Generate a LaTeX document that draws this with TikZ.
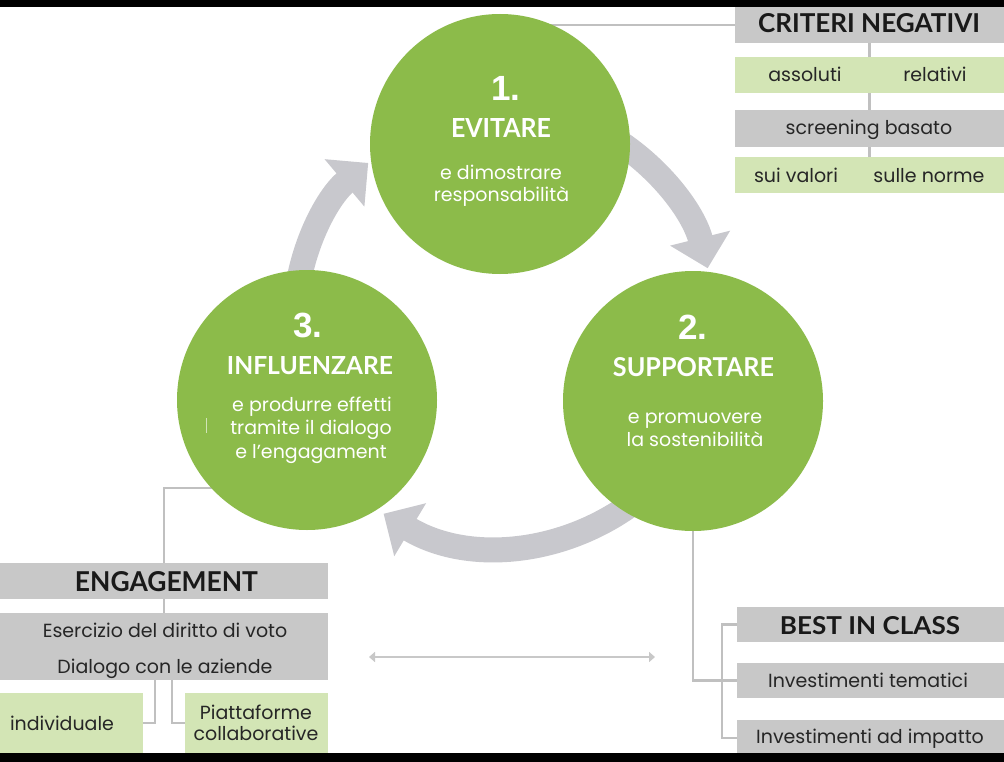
\documentclass[tikz,border=0pt]{standalone}
\usepackage{fontspec}
\usepackage{graphicx}
\setmainfont{Poppins}
\newfontfamily\hdrfont{Lato}
\newfontfamily\numfont{Liberation Sans}
\usetikzlibrary{arrows.meta,calc,backgrounds}
\definecolor{cgreen}{HTML}{8CBB4A}
\definecolor{lgreen}{HTML}{D3E5B5}
\definecolor{boxgray}{HTML}{C8C8C8}
\definecolor{ringgray}{HTML}{C8C8CD}
\definecolor{linegray}{HTML}{C0C0C0}
\newcommand{\mkhdr}[3]{\resizebox{#1pt}{#2pt}{\hdrfont\bfseries #3}}
\begin{document}
\begin{tikzpicture}[x=1pt,y=-1pt,
  circ/.style={circle,fill=cgreen,minimum size=260pt,inner sep=0pt},
  graybox/.style={rectangle,fill=boxgray,inner sep=0pt},
  greenbox/.style={rectangle,fill=lgreen,inner sep=0pt},
  hdr/.style={inner sep=0pt,text=black!90},
  chdr/.style={inner sep=0pt,text=white},
  ctext/.style={inner sep=0pt,anchor=base,text=white,font=\fontsize{19}{23}\selectfont},
  btext/.style={inner sep=0pt,anchor=base,text=black!85,font=\fontsize{19}{23}\selectfont},
  num/.style={inner sep=0pt,text=white,font=\numfont\bfseries\fontsize{35}{40}\selectfont},
  ring/.style={draw=ringgray,line width=25pt,-{Triangle[width=60pt,length=31pt]}},
  conn/.style={draw=linegray,line width=2.5pt},
  dbl/.style={draw=boxgray,line width=2pt,{Triangle[width=10pt,length=6pt]}-{Triangle[width=10pt,length=6pt]}},
]
\useasboundingbox (0,0) rectangle (1004,762);
% circles
\node[circ] (c1) at (500,144) {};
\node[circ] (c2) at (693,401) {};
\node[circ] (c3) at (307,400) {};
% right top boxes
\node[graybox,minimum width=269pt,minimum height=36pt] (crit) at (869.5,25) {};
\node[greenbox,minimum width=269pt,minimum height=36pt] (abs) at (869.5,75) {};
\node[graybox,minimum width=269pt,minimum height=37pt] (scr) at (869.5,128.5) {};
\node[greenbox,minimum width=269pt,minimum height=36pt] (sui) at (869.5,175) {};
% left boxes
\node[graybox,minimum width=328pt,minimum height=36pt] (eng) at (164,581) {};
\node[graybox,minimum width=328pt,minimum height=67pt] (esc) at (164,646.5) {};
\node[greenbox,minimum width=143pt,minimum height=60pt] (ind) at (71.5,723) {};
\node[greenbox,minimum width=143pt,minimum height=60pt] (pia) at (256.5,723) {};
% right bottom boxes
\node[graybox,minimum width=267pt,minimum height=35pt] (best) at (870.5,624.5) {};
\node[graybox,minimum width=267pt,minimum height=35pt] (inv1) at (870.5,680.5) {};
\node[graybox,minimum width=267pt,minimum height=36pt] (inv2) at (870.5,738) {};
% circle texts
\node[num] (n1) at (506,88) {1.};
\node[num] (n2) at (693,327) {2.};
\node[num] (n3) at (308,325) {3.};
\node[chdr] (h1) at (501,127.5) {\mkhdr{100}{19}{EVITARE}};
\node[chdr] (h2) at (693.5,367.5) {\mkhdr{161}{19}{SUPPORTARE}};
\node[chdr] (h3) at (310,366) {\mkhdr{166}{18}{INFLUENZARE}};
\node[ctext] (t1a) at (501,180) {e dimostrare};
\node[ctext] (t1b) at (501.5,202) {responsabilità};
\node[ctext] (t2a) at (695,423) {e promuovere};
\node[ctext] (t2b) at (695,446) {la sostenibilità};
\node[ctext] (t3a) at (312,411) {e produrre effetti};
\node[ctext] (t3b) at (311,434) {tramite il dialogo};
\node[ctext] (t3c) at (311,458) {e l’engagament};
% box texts
\node[hdr] (hcrit) at (869,23.5) {\mkhdr{222}{19}{CRITERI NEGATIVI}};
\node[hdr] (heng) at (166.5,582) {\mkhdr{183}{20}{ENGAGEMENT}};
\node[hdr] (hbest) at (870,626) {\mkhdr{180}{18}{BEST IN CLASS}};
\node[btext] (ba1) at (805,82) {assoluti};
\node[btext] (ba2) at (935,82) {relativi};
\node[btext] (bs) at (869,135) {screening basato};
\node[btext] (bv1) at (796,183) {sui valori};
\node[btext] (bv2) at (929,183) {sulle norme};
\node[btext] (be1) at (165,637) {Esercizio del diritto di voto};
\node[btext] (be2) at (165,673) {Dialogo con le aziende};
\node[btext] (bi) at (62,730) {individuale};
\node[btext] (bp1) at (256,719) {Piattaforme};
\node[btext] (bp2) at (256,740) {collaborative};
\node[btext] (bt1) at (868,687) {Investimenti tematici};
\node[btext] (bt2) at (870,743) {Investimenti ad impatto};
% coordinates
\coordinate (ctr) at (500,320);
\coordinate (j3) at (0,488);
\coordinate (da1) at (369,657);
\coordinate (da2) at (655,657);
\begin{pgfonlayer}{background}
\fill[white] (0,0) rectangle (1004,762);
\draw[ring] ($(ctr)+(-60:214)$) arc[start angle=-60,end angle=-14,radius=214];
\draw[ring] ($(ctr)+(40:226)$) arc[start angle=40,end angle=121,radius=226];
\draw[ring] ($(ctr)+(185:205)$) arc[start angle=185,end angle=230,radius=205];
\draw[conn] (c1.center |- crit.west) -- (crit.west);
\draw[conn] (crit.south) -- (sui.north);
\draw[conn] (c3.center |- j3) -| (eng.north);
\draw[conn] (eng.south) -- (esc.north);
\draw[conn] ([xshift=-9pt]esc.south) |- (ind.east);
\draw[conn] ([xshift=8pt]esc.south) |- (pia.west);
\draw[conn] (c2.south) |- (inv1.west);
\draw[conn] (best.west) -- ++(-15,0) |- (inv2.west);
\draw[dbl] (da1) -- (da2);
\end{pgfonlayer}
\draw[line width=0.8pt,color=white!60!cgreen] (206,418) -- (206,433);
\fill[black] (0,0) rectangle (1004,7);
\fill[black] (0,753) rectangle (1004,762);
\end{tikzpicture}
\end{document}
